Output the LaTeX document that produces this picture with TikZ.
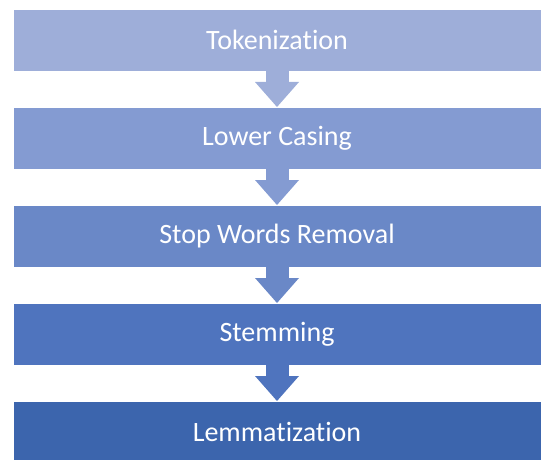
\documentclass[tikz,border=0pt]{standalone}
\usepackage{fontspec}
\setsansfont{Carlito}[Ligatures=NoCommon]
\usepackage{tikz}
\usetikzlibrary{positioning,arrows.meta}

\definecolor{c1}{RGB}{158,174,217}
\definecolor{c2}{RGB}{132,155,210}
\definecolor{c3}{RGB}{106,136,199}
\definecolor{c4}{RGB}{79,116,190}
\definecolor{c5}{RGB}{60,101,173}

\tikzset{
  stepbox/.style={draw=white, line width=0.6pt, minimum width=528pt, minimum height=62pt, inner sep=0pt, outer sep=0pt, text=white},
  flowarrow/.style={line width=23pt, -{Triangle[length=25pt, width=44pt, line width=0pt]}}
}

\begin{document}
\begin{tikzpicture}[x=1pt, y=-1pt, node distance=36pt, font=\sffamily\fontsize{28}{33}\selectfont]
        \useasboundingbox (0,0) rectangle (541,460);
        \node[stepbox, fill=c1] (tok) at (277,40) {Tokenization};
        \node[stepbox, fill=c2, below=of tok] (low) {Lower Casing};
        \node[stepbox, fill=c3, below=of low] (stop) {Stop Words Removal};
        \node[stepbox, fill=c4, below=of stop] (stem) {Stemming};
        \node[stepbox, fill=c5, below=of stem] (lem) {Lemmatization};
        \foreach \a/\b/\col in {tok/low/c1, low/stop/c2, stop/stem/c3, stem/lem/c4}{\draw[flowarrow, draw=\col, fill=\col] (\a.south) -- (\b.north);}
\end{tikzpicture}
\end{document}
